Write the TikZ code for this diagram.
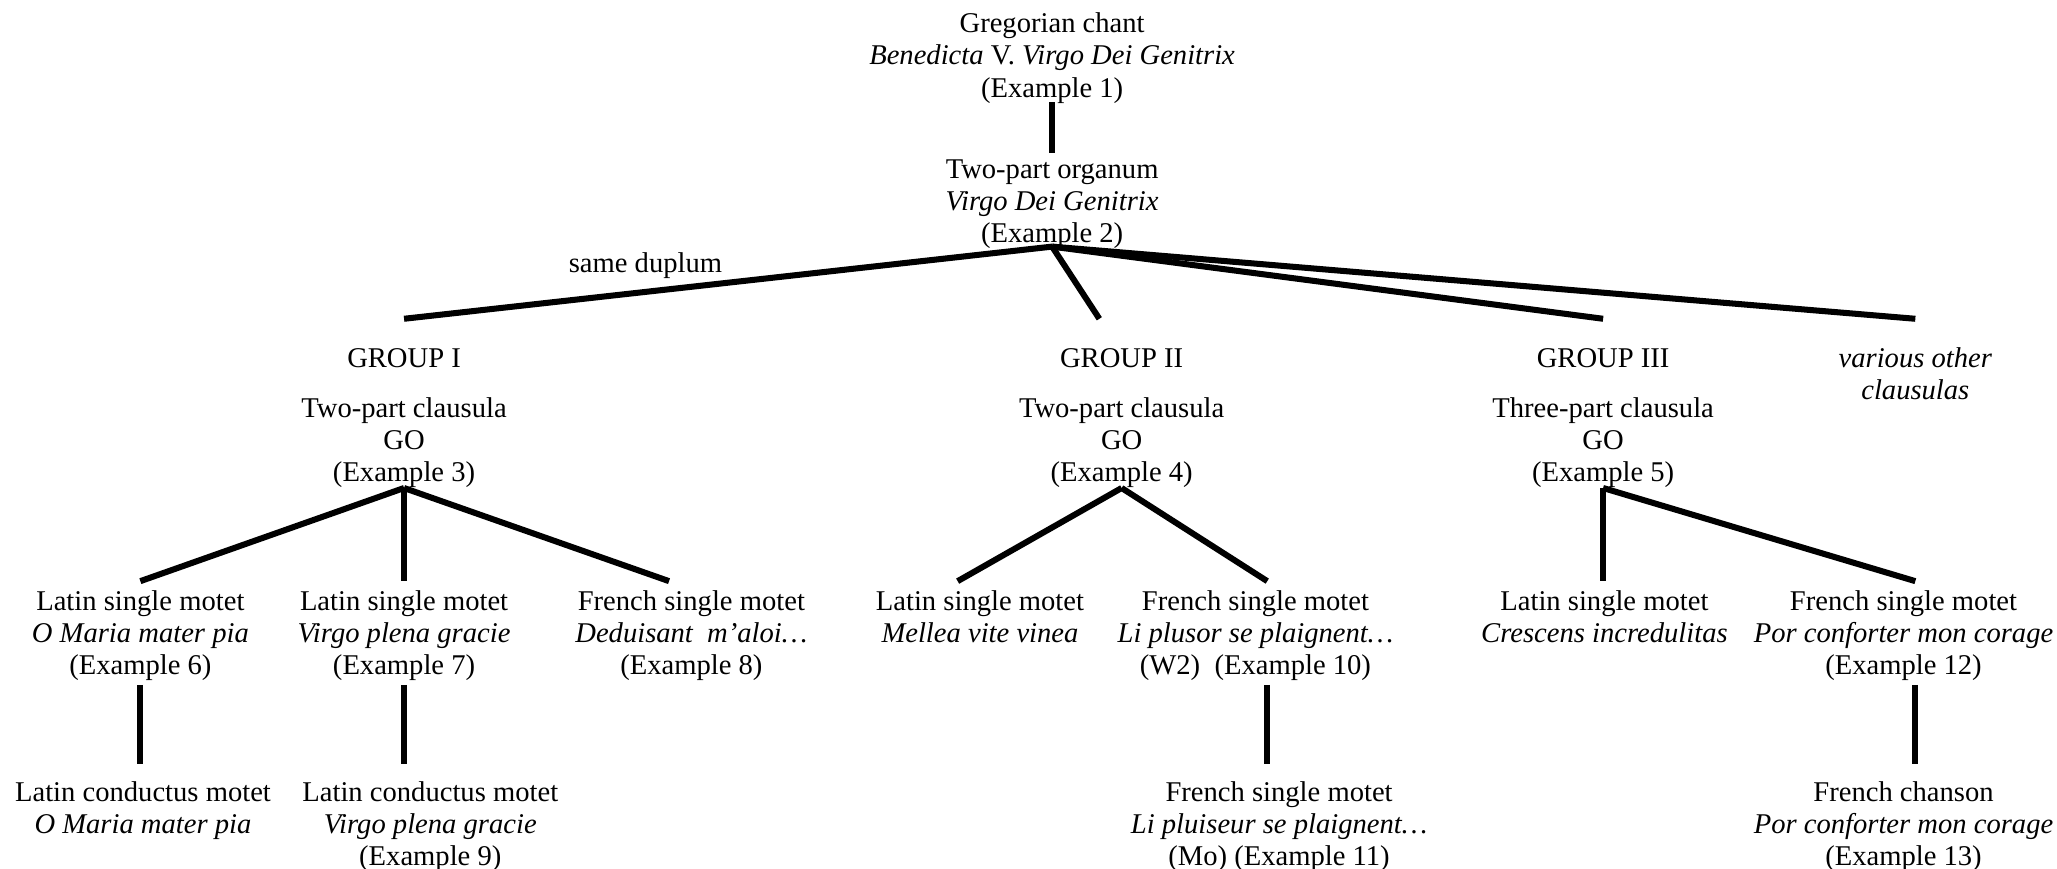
\documentclass[tikz,border=0pt]{standalone}
\usepackage{fontspec}
\setmainfont{Liberation Serif}
\begin{document}
\begin{tikzpicture}[x=0.5pt,y=-0.5pt,
  txt/.style={inner sep=0pt, align=center, anchor=north, font=\fontsize{10.9}{12.25}\selectfont},
  conn/.style={line width=2.3pt}]
\useasboundingbox (0,0) rectangle (1568,662);

% top
\node[txt] (chant) at (802,7.5) {\strut Gregorian chant\\\textit{Benedicta} V. \textit{Virgo Dei Genitrix}\\(Example 1)\strut};
\node[txt] (org) at (802,118.5) {\strut Two-part organum\\\textit{Virgo Dei Genitrix}\\(Example 2)\strut};
\node[txt] (dup) at (492,190.5) {\strut same duplum\strut};

% groups
\node[txt] (g1) at (308,262.5) {\strut GROUP I\strut};
\node[txt] (g2) at (855,262.5) {\strut GROUP II\strut};
\node[txt] (g3) at (1222,262.5) {\strut GROUP III\strut};
\node[txt] (g4) at (1460,262.5) {\strut\textit{various other}\\\textit{clausulas}\strut};

\node[txt] (c1) at (308,300.5) {\strut Two-part clausula\\GO\\(Example 3)\strut};
\node[txt] (c2) at (855,300.5) {\strut Two-part clausula\\GO\\(Example 4)\strut};
\node[txt] (c3) at (1222,300.5) {\strut Three-part clausula\\GO\\(Example 5)\strut};

% level 3
\node[txt] (m6) at (107,447.5) {\strut Latin single motet\\\textit{O Maria mater pia}\\(Example 6)\strut};
\node[txt] (m7) at (308,447.5) {\strut Latin single motet\\\textit{Virgo plena gracie}\\(Example 7)\strut};
\node[txt] (m8) at (527,447.5) {\strut French single motet\\\textit{Deduisant\ \ m'aloi…}\\(Example 8)\strut};
\node[txt] (mm) at (747,447.5) {\strut Latin single motet\\\textit{Mellea vite vinea}\strut};
\node[txt] (m10) at (957,447.5) {\strut French single motet\\\textit{Li plusor se plaignent…}\\(W2)\ \ (Example 10)\strut};
\node[txt] (mc) at (1223,447.5) {\strut Latin single motet\\\textit{Crescens incredulitas}\strut};
\node[txt] (m12) at (1451,447.5) {\strut French single motet\\\textit{Por conforter mon corage}\\(Example 12)\strut};

% level 4
\node[txt] (m6c) at (109,593.5) {\strut Latin conductus motet\\\textit{O Maria mater pia}\strut};
\node[txt] (m9) at (328,593.5) {\strut Latin conductus motet\\\textit{Virgo plena gracie}\\(Example 9)\strut};
\node[txt] (m11) at (975,593.5) {\strut French single motet\\\textit{Li pluiseur se plaignent…}\\(Mo) (Example 11)\strut};
\node[txt] (m13) at (1451,593.5) {\strut French chanson\\\textit{Por conforter mon corage}\\(Example 13)\strut};

% connector points
\coordinate (h0) at (802,188);
\coordinate (e1) at (308,243);
\coordinate (e2) at (838,243);
\coordinate (e3) at (1222,243);
\coordinate (e4) at (1460,243);
\coordinate (h1) at (308,372);
\coordinate (h2) at (855,372);
\coordinate (h3) at (1222,372);
\coordinate (t6) at (107,443);
\coordinate (t7) at (308,443);
\coordinate (t8) at (510,443);
\coordinate (tm) at (730,443);
\coordinate (t10) at (966,443);
\coordinate (tc) at (1222,443);
\coordinate (t12) at (1460,443);
\coordinate (v6a) at (107,522);
\coordinate (v6b) at (107,582);
\coordinate (v7a) at (308,522);
\coordinate (v7b) at (308,582);
\coordinate (v10a) at (966,522);
\coordinate (v10b) at (966,582);
\coordinate (v12a) at (1460,522);
\coordinate (v12b) at (1460,582);
\coordinate (v0a) at (802,78);
\coordinate (v0b) at (802,117);

\draw[conn] (v0a) -- (v0b);
\draw[conn] (h0) -- (e1);
\draw[conn] (h0) -- (e2);
\draw[conn] (h0) -- (e3);
\draw[conn] (h0) -- (e4);
\draw[conn] (h1) -- (t6);
\draw[conn] (h1) -- (t7);
\draw[conn] (h1) -- (t8);
\draw[conn] (h2) -- (tm);
\draw[conn] (h2) -- (t10);
\draw[conn] (h3) -- (tc);
\draw[conn] (h3) -- (t12);
\draw[conn] (v6a) -- (v6b);
\draw[conn] (v7a) -- (v7b);
\draw[conn] (v10a) -- (v10b);
\draw[conn] (v12a) -- (v12b);
\end{tikzpicture}
\end{document}
